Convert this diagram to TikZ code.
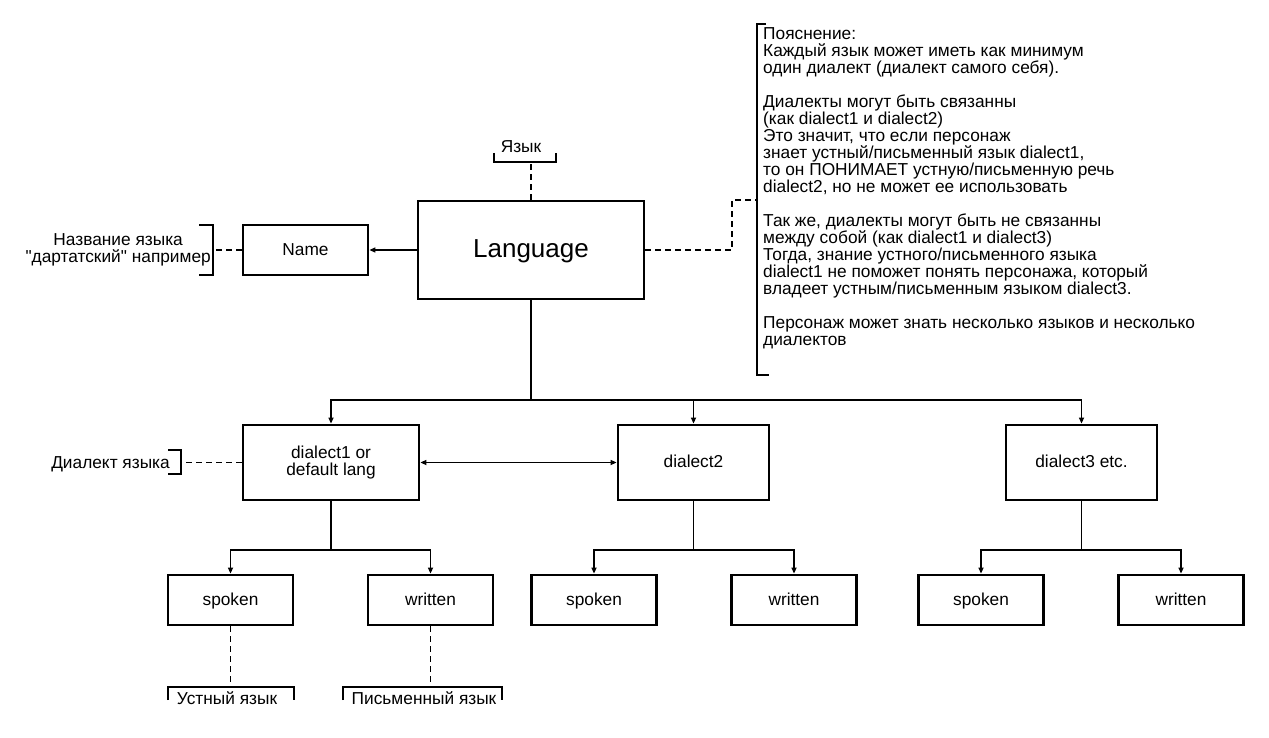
\documentclass[tikz,border=0pt]{standalone}
\usepackage{fontspec}
\setmainfont{Liberation Sans}[Ligatures=TeXOff]
\usetikzlibrary{arrows.meta}
\newcommand\fsz{\fontsize{17.3}{17}\selectfont}
\newcommand\flg{\fontsize{26}{28}\selectfont}
\begin{document}
\begin{tikzpicture}[x=1pt,y=-1pt,
  box/.style={draw=black, line width=2.8pt, inner sep=0pt, align=center, font=\fsz, fill=white},
  onel/.style={text height=13pt, text depth=3pt},
  bigbox/.style={box, minimum width=226pt, minimum height=98pt, font=\flg, text height=18.6pt, text depth=2.6pt},
  dbox/.style={box, minimum height=75pt},
  sbox/.style={box, onel, minimum width=125pt, minimum height=50pt},
  conn/.style={draw=black, line width=1.5pt, -{Triangle[length=6pt,width=5pt]}},
  biconn/.style={draw=black, line width=1.5pt, {Triangle[length=6pt,width=5pt]}-{Triangle[length=6pt,width=5pt]}},
  dashline/.style={draw=black, line width=1.5pt, dash pattern=on 6pt off 4pt},
  brk/.style={draw=black, line width=1.5pt},
  ann/.style={inner sep=0pt, font=\fsz, text=black}
]
\useasboundingbox (0,0) rectangle (1269,738);

% main boxes
\node[bigbox] (lang) at (531,250) {Language};
\node[sbox] (name) at (305.5,250) {Name};
\node[dbox, minimum width=176pt] (d1) at (331,462.5) {dialect1 or\\default lang};
\node[dbox, onel, minimum width=151pt] (d2) at (693.5,462.5) {dialect2};
\node[dbox, onel, minimum width=151pt] (d3) at (1081.5,462.5) {dialect3 etc.};
\node[sbox] (s1) at (230.5,600) {spoken};
\node[sbox] (w1) at (430.5,600) {written};
\node[sbox] (s2) at (594,600) {spoken};
\node[sbox] (w2) at (794,600) {written};
\node[sbox] (s3) at (981,600) {spoken};
\node[sbox] (w3) at (1181,600) {written};

% tree connectors
\coordinate (bus) at (531,400);
\draw[conn] (lang.south) -- (bus) -| (d1.north);
\draw[conn] (bus) -| (d2.north);
\draw[conn] (bus) -| (d3.north);
\draw[conn] (lang.west) -- (name.east);
\draw[biconn] (d1.east) -- (d2.west);
\coordinate (j1) at (331,550);
\coordinate (j2) at (693.5,550);
\coordinate (j3) at (1081.5,550);
\draw[conn] (d1.south) -- (j1) -| (s1.north);
\draw[conn] (j1) -| (w1.north);
\draw[conn] (d2.south) -- (j2) -| (s2.north);
\draw[conn] (j2) -| (w2.north);
\draw[conn] (d3.south) -- (j3) -| (s3.north);
\draw[conn] (j3) -| (w3.north);

% annotation: Язык
\node[ann, anchor=base] (tlang) at (521,153) {Язык};
\draw[brk] (494,153) -- (494,162) -- (556,162) -- (556,153);
\coordinate (blang) at (531,162);
\draw[dashline] (lang.north) -- (blang);

% annotation: name
\node[ann, anchor=east, align=center] (tname) at (211,250) {Название языка\\"дартатский" например};
\draw[brk] (199,225) -- (213,225) -- (213,275) -- (199,275);
\coordinate (bname) at (213,250);
\draw[dashline] (name.west) -- (bname);

% annotation: dialect
\node[ann, anchor=base east] (tdial) at (170,468) {Диалект языка};
\draw[brk] (168,450) -- (181,450) -- (181,474) -- (168,474);
\coordinate (bdial) at (181,462.5);
\draw[dashline] (d1.west) -- (bdial);

% annotation: spoken / written
\node[ann, anchor=base] (tspoken) at (227,704) {Устный язык};
\draw[brk] (168,700) -- (168,687) -- (294,687) -- (294,700);
\coordinate (bspoken) at (230.5,687);
\draw[dashline] (s1.south) -- (bspoken);

\node[ann, anchor=base] (twritten) at (424,704) {Письменный язык};
\draw[brk] (343,700) -- (343,687) -- (502,687) -- (502,700);
\coordinate (bwritten) at (430.5,687);
\draw[dashline] (w1.south) -- (bwritten);

% annotation: explanation
\node[ann, anchor=north west, align=left] (note) at (763,27) {Пояснение:\\
Каждый язык может иметь как минимум\\
один диалект (диалект самого себя).\\[17pt]
Диалекты могут быть связанны\\
(как dialect1 и dialect2)\\
Это значит, что если персонаж\\
знает устный/письменный язык dialect1,\\
то он ПОНИМАЕТ устную/письменную речь\\
dialect2, но не может ее использовать\\[17pt]
Так же, диалекты могут быть не связанны\\
между собой (как dialect1 и dialect3)\\
Тогда, знание устного/письменного языка\\
dialect1 не поможет понять персонажа, который\\
владеет устным/письменным языком dialect3.\\[17pt]
Персонаж может знать несколько языков и несколько\\
диалектов};
\draw[brk] (766,24) -- (757,24) -- (757,375) -- (769,375);
\coordinate (bnote) at (757,200);
\draw[dashline] (lang.east) -- (732,250) -- (732,200) -- (bnote);
\end{tikzpicture}
\end{document}
